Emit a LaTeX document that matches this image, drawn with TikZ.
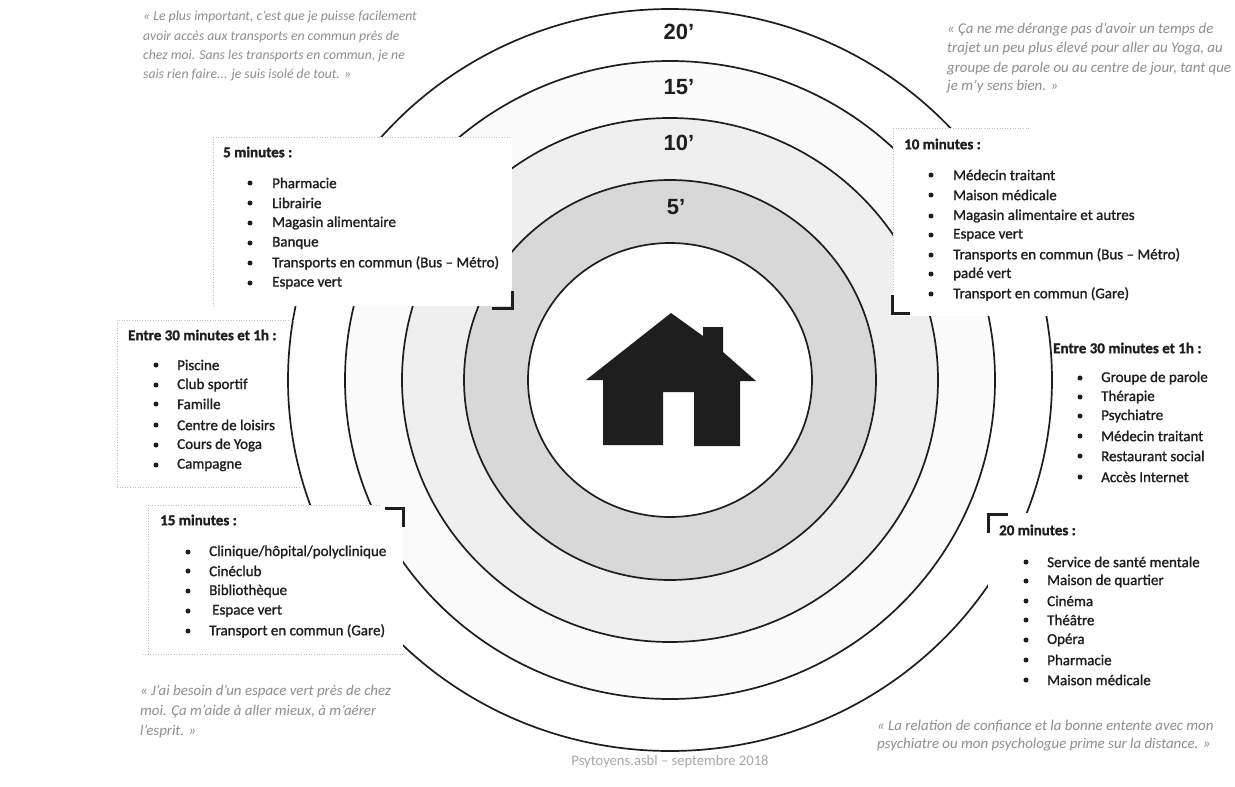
\documentclass[tikz,border=0pt]{standalone}
\usepackage{fontspec}
\setmainfont{Carlito}
\newfontfamily\listfont[FakeBold=1.2]{Carlito}
\newfontfamily\ringfont{Liberation Sans}
\definecolor{quotegray}{HTML}{8E8E8E}
\definecolor{footgray}{HTML}{A8A8A8}
\definecolor{ringa}{HTML}{FBFBFB}
\definecolor{ringb}{HTML}{EFEFEF}
\definecolor{ringc}{HTML}{D8D8D8}
\definecolor{ink}{HTML}{1E1E1E}
\definecolor{dotgray}{HTML}{BDBDBD}
\tikzset{
  ringline/.style={draw=ink,line width=1.7pt},
  mask/.style={fill=white,draw=none},
  boxedge/.style={draw=dotgray,line width=0.6pt,dotted},
  corner/.style={draw=ink,line width=3pt,line cap=butt,line join=miter},
  listitem/.style={anchor=west,inner sep=0pt,font=\listfont\fontsize{15}{18}\selectfont,text=ink},
  listtitle/.style={anchor=west,inner sep=0pt,font=\listfont\fontsize{15}{18}\selectfont\bfseries,text=ink},
  quotetext/.style={anchor=west,inner sep=0pt,font=\itshape\fontsize{13.7}{16}\selectfont,text=quotegray},
  quotewide/.style={anchor=west,inner sep=0pt,font=\itshape\fontsize{14.9}{17}\selectfont,text=quotegray},
  ringlabel/.style={inner sep=0pt,font=\ringfont\bfseries\fontsize{22}{25}\selectfont,text=ink},
  bulletdot/.style={fill=ink,draw=none}
}
% #1 name, #2 bullet x, #3 text x, #4 comma list of y/text
\newcommand{\itemlist}[4]{%
  \foreach \yy/\tt [count=\i] in {#4}{%
    \fill[bulletdot] (#2,\yy) circle (2.5);
    \node[listitem] (#1-\i) at (#3,\yy) {\tt};
  }%
}
\begin{document}
\begin{tikzpicture}[x=1pt,y=-1pt]
\useasboundingbox (0,0) rectangle (1235,787);
\fill[white] (0,0) rectangle (1235,787);
% rings
\coordinate (ctr) at (670,380);
\path[fill=ringa] (ctr) ellipse [x radius=325,y radius=319];
\path[fill=ringb] (ctr) ellipse [x radius=268,y radius=262];
\path[fill=ringc] (ctr) ellipse [x radius=206,y radius=200];
\path[fill=white] (ctr) ellipse [x radius=142,y radius=137];
\path[ringline] (ctr) ellipse [x radius=382,y radius=371];
\path[ringline] (ctr) ellipse [x radius=325,y radius=319];
\path[ringline] (ctr) ellipse [x radius=268,y radius=262];
\path[ringline] (ctr) ellipse [x radius=206,y radius=200];
\path[ringline] (ctr) ellipse [x radius=142,y radius=137];
% masks
\fill[mask] (213,137) rectangle (512,306);
\fill[mask] (148,505) rectangle (403,654);
\fill[mask] (893,128) rectangle (1210,316);
\fill[mask] (988,513) rectangle (1210,700);
% dotted box edges
\draw[boxedge] (213,306) -- (213,137) -- (512,137);
\draw[boxedge] (117,487) -- (117,320) -- (295,320);
\draw[boxedge] (117,487) -- (300,487);
\draw[boxedge] (403,654) -- (142,654);
\draw[boxedge] (148,654) -- (148,505) -- (380,505);
\draw[boxedge] (893,128) -- (1030,128);
\draw[boxedge] (893,128) -- (893,290);
% corner marks
\draw[corner] (492,308) -- (512,308) -- (512,291);
\draw[corner] (892,295) -- (892,313) -- (910,313);
\draw[corner] (385,508) -- (403,508) -- (403,527);
\draw[corner] (988,533) -- (988,514) -- (1008,514);
% ring labels
\node[ringlabel] (r20) at (679,32) {20’};
\node[ringlabel] (r15) at (679,87) {15’};
\node[ringlabel] (r10) at (679,143) {10’};
\node[ringlabel] (r5) at (676,207) {5’};
% house
\fill[ink] (671,313) -- (703,336) -- (703,327) -- (723,327) -- (723,352) -- (756,381) -- (740,381) -- (740,446) -- (694,446) -- (694,392) -- (663,392) -- (663,445) -- (603,445) -- (603,380) -- (586,380) -- cycle;
% lists
\node[listtitle] (t5) at (223,152) {5 minutes :};
\itemlist{a}{250}{272}{183/Pharmacie,203/Librairie,223/Magasin alimentaire,243/Banque,263/Transports en commun (Bus – Métro),283/Espace vert}
\node[listtitle] (t30l) at (128,335) {Entre 30 minutes et 1h :};
\itemlist{b}{156}{177}{365/Piscine,385/Club sportif,404/Famille,425/Centre de loisirs,445/Cours de Yoga,465/Campagne}
\node[listtitle] (t15) at (160,520) {15 minutes :};
\itemlist{c}{188}{209}{552/{Clinique/hôpital/polyclinique},571/Cinéclub,591/Bibliothèque}
\itemlist{c3}{188}{212}{611/Espace vert}
\itemlist{c4}{188}{209}{631/Transport en commun (Gare)}
\node[listtitle] (t10) at (904,144) {10 minutes :};
\itemlist{d}{931}{953}{175/Médecin traitant,195/Maison médicale,216/Magasin alimentaire et autres,235/Espace vert,255/Transports en commun (Bus – Métro),274/padé vert,294/Transport en commun (Gare)}
\node[listtitle] (t30r) at (1053,348) {Entre 30 minutes et 1h :};
\itemlist{e}{1080}{1101}{378/Groupe de parole,397/Thérapie,416/Psychiatre,436/Médecin traitant,456/Restaurant social,477/Accès Internet}
\node[listtitle] (t20) at (999,530) {20 minutes :};
\itemlist{f}{1026}{1047}{562/Service de santé mentale,581/Maison de quartier,601/Cinéma,620/Théâtre,640/Opéra,660/Pharmacie,680/Maison médicale}
% quotes
\node[quotetext] (q1a) at (143,17) {« Le plus important, c’est que je puisse facilement};
\node[quotetext] (q1b) at (143,37) {avoir accès aux transports en commun près de};
\node[quotetext] (q1c) at (143,56) {chez moi. Sans les transports en commun, je ne};
\node[quotetext] (q1d) at (143,75) {sais rien faire... je suis isolé de tout. »};
\node[quotewide] (q2a) at (947,30) {« Ça ne me dérange pas d’avoir un temps de};
\node[quotewide] (q2b) at (947,49) {trajet un peu plus élevé pour aller au Yoga, au};
\node[quotewide] (q2c) at (947,69) {groupe de parole ou au centre de jour, tant que};
\node[quotewide] (q2d) at (947,87) {je m’y sens bien. »};
\node[quotewide] (q3a) at (140,692) {« J’ai besoin d’un espace vert près de chez};
\node[quotewide] (q3b) at (140,712) {moi. Ça m’aide à aller mieux, à m’aérer};
\node[quotewide] (q3c) at (140,732) {l’esprit. »};
\node[quotewide] (q4a) at (877,726) {« La relation de confiance et la bonne entente avec mon};
\node[quotewide] (q4b) at (877,745) {psychiatre ou mon psychologue prime sur la distance. »};
\node[quotetext,anchor=center,font=\fontsize{14.6}{17}\selectfont,text=footgray] (foot) at (670,762) {Psytoyens.asbl – septembre 2018};
\end{tikzpicture}
\end{document}
